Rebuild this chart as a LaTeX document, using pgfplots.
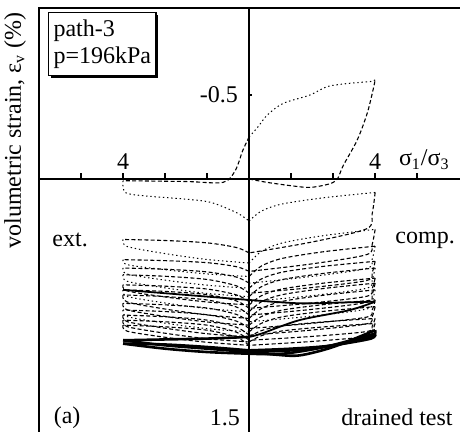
\documentclass[border=0pt]{standalone}
\usepackage{pgfplots}
\pgfplotsset{compat=1.18}
\usepackage{fontspec}
\setmainfont{Liberation Serif}
\usetikzlibrary{shadows}
\begin{document}
\begin{tikzpicture}[x=1pt,y=1pt,font=\fontsize{12}{14}\selectfont]
\path[use as bounding box] (0,0) rectangle (230,216);
\begin{axis}[at={(19.5pt,0pt)}, anchor=south west, scale only axis,
  width=210.5pt, height=212pt, xmin=-5, xmax=5.02, ymin=-1.018, ymax=1.506,
  y dir=reverse, hide axis, clip=false,
  ld/.style={black, line width=0.55pt, dash pattern=on 2pt off 1.2pt, smooth, tension=0.5},
  ul/.style={black, line width=0.5pt, dash pattern=on 0.7pt off 1.4pt, smooth, tension=0.5},
  tk/.style={black, line width=1.3pt, smooth, tension=0.5}]
% frame and centre lines
\draw[line width=1pt] (axis cs:-5,1.506) -- (axis cs:-5,-1.018) -- (axis cs:5.02,-1.018);
\draw[line width=1pt] (axis cs:0,1.506) -- (axis cs:0,-1.018);
\draw[line width=1pt] (axis cs:-5,0) -- (axis cs:5.02,0);
\draw[line width=0.8pt] (axis cs:-4,0) -- (axis cs:-4,-0.035);
\draw[line width=0.8pt] (axis cs:-3,0) -- (axis cs:-3,-0.035);
\draw[line width=0.8pt] (axis cs:-2,0) -- (axis cs:-2,-0.035);
\draw[line width=0.8pt] (axis cs:-1,0) -- (axis cs:-1,-0.035);
\draw[line width=0.8pt] (axis cs:1,0) -- (axis cs:1,-0.035);
\draw[line width=0.8pt] (axis cs:2,0) -- (axis cs:2,-0.035);
\draw[line width=0.8pt] (axis cs:3,0) -- (axis cs:3,-0.035);
\draw[line width=0.8pt] (axis cs:4,0) -- (axis cs:4,-0.035);
\draw[line width=0.8pt] (axis cs:0,-0.5) -- (axis cs:0.08,-0.5);
% cycle 0
\addplot[ld] coordinates {(0,0) (0.43,0.02) (1,0.04) (1.45,0.05) (1.9,0.03) (2.1,0.0) (2.24,-0.08) (2.57,-0.23) (2.81,-0.39) (2.95,-0.53) (3,-0.59)};
\addplot[ul] coordinates {(3,-0.59) (2.88,-0.58) (2.4,-0.57) (1.86,-0.55) (1.45,-0.5) (0.81,-0.45) (0.43,-0.38) (0.21,-0.31) (0,-0.25)};
\addplot[ld] coordinates {(0,-0.25) (-0.15,-0.17) (-0.33,-0.05) (-0.62,0.02) (-1.5,0.015) (-3,0.01)};
\addplot[ul] coordinates {(-3,0.01) (-2.95,0.08) (-2.5,0.1) (-1.5,0.12) (-0.9,0.14) (-0.3,0.2) (0,0.25)};
% cycle 1
\addplot[ul] coordinates {(0,0.25) (0.3,0.19) (0.8,0.148) (1.8,0.111) (3,0.08)};
\addplot[ld] coordinates {(3,0.08) (2.93,0.206) (2.8,0.296) (1.5,0.375) (0,0.44)};
\addplot[ld] coordinates {(0,0.44) (-0.3,0.408) (-1,0.38) (-2,0.366) (-3,0.36)};
\addplot[ul] coordinates {(-3,0.36) (-2.9,0.402) (-2,0.444) (-1,0.479) (0,0.50)};
% cycle 2
\addplot[ul] coordinates {(0,0.50) (0.3,0.43) (0.8,0.38) (1.8,0.336) (3,0.30)};
\addplot[ld] coordinates {(3,0.30) (2.93,0.388) (2.8,0.45) (1.5,0.505) (0,0.55)};
\addplot[ld] coordinates {(0,0.55) (-0.3,0.522) (-1,0.498) (-2,0.486) (-3,0.48)};
\addplot[ul] coordinates {(-3,0.48) (-2.9,0.51) (-2,0.54) (-1,0.565) (0,0.58)};
% cycle 3
\addplot[ld] coordinates {(0,0.58) (0.3,0.517) (0.8,0.472) (1.8,0.432) (3,0.40)};
\addplot[ul] coordinates {(3,0.40) (2.93,0.477) (2.8,0.532) (1.5,0.58) (0,0.62)};
\addplot[ld] coordinates {(0,0.62) (-0.3,0.584) (-1,0.553) (-2,0.537) (-3,0.53)};
\addplot[ul] coordinates {(-3,0.53) (-2.9,0.566) (-2,0.602) (-1,0.632) (0,0.65)};
% cycle 4
\addplot[ld] coordinates {(0,0.65) (0.3,0.594) (0.8,0.554) (1.8,0.519) (3,0.49)};
\addplot[ld] coordinates {(3,0.49) (2.93,0.557) (2.8,0.604) (1.5,0.646) (0,0.68)};
\addplot[ld] coordinates {(0,0.68) (-0.3,0.636) (-1,0.598) (-2,0.579) (-3,0.57)};
\addplot[ul] coordinates {(-3,0.57) (-2.9,0.609) (-2,0.648) (-1,0.681) (0,0.70)};
% cycle 5
\addplot[ld] coordinates {(0,0.70) (0.3,0.64) (0.8,0.598) (1.8,0.561) (3,0.53)};
\addplot[ul] coordinates {(3,0.53) (2.93,0.60) (2.8,0.65) (1.5,0.694) (0,0.73)};
\addplot[ld] coordinates {(0,0.73) (-0.3,0.69) (-1,0.655) (-2,0.638) (-3,0.63)};
\addplot[ld] coordinates {(-3,0.63) (-2.9,0.666) (-2,0.702) (-1,0.732) (0,0.75)};
% cycle 6
\addplot[ld] coordinates {(0,0.75) (0.3,0.694) (0.8,0.654) (1.8,0.619) (3,0.59)};
\addplot[ld] coordinates {(3,0.59) (2.93,0.653) (2.8,0.698) (1.5,0.738) (0,0.77)};
\addplot[ld] coordinates {(0,0.77) (-0.3,0.726) (-1,0.688) (-2,0.669) (-3,0.66)};
\addplot[ul] coordinates {(-3,0.66) (-2.9,0.699) (-2,0.738) (-1,0.771) (0,0.79)};
% cycle 7
\addplot[ld] coordinates {(0,0.79) (0.3,0.73) (0.8,0.688) (1.8,0.651) (3,0.62)};
\addplot[ld] coordinates {(3,0.62) (2.93,0.687) (2.8,0.734) (1.5,0.776) (0,0.81)};
\addplot[ld] coordinates {(0,0.81) (-0.3,0.762) (-1,0.72) (-2,0.70) (-3,0.69)};
\addplot[ld] coordinates {(-3,0.69) (-2.9,0.732) (-2,0.774) (-1,0.809) (0,0.83)};
% cycle 8
\addplot[ld] coordinates {(0,0.83) (0.3,0.77) (0.8,0.728) (1.8,0.691) (3,0.66)};
\addplot[ul] coordinates {(3,0.66) (2.93,0.727) (2.8,0.774) (1.5,0.816) (0,0.85)};
\addplot[ld] coordinates {(0,0.85) (-0.3,0.806) (-1,0.768) (-2,0.749) (-3,0.74)};
\addplot[ld] coordinates {(-3,0.74) (-2.9,0.779) (-2,0.818) (-1,0.851) (0,0.87)};
% cycle 9
\addplot[ld] coordinates {(0,0.87) (0.3,0.818) (0.8,0.78) (1.8,0.747) (3,0.72)};
\addplot[ld] coordinates {(3,0.72) (2.93,0.78) (2.8,0.822) (1.5,0.859) (0,0.89)};
\addplot[ld] coordinates {(0,0.89) (-0.3,0.846) (-1,0.808) (-2,0.789) (-3,0.78)};
\addplot[ul] coordinates {(-3,0.78) (-2.9,0.819) (-2,0.858) (-1,0.891) (0,0.91)};
% cycle 10
\addplot[ld] coordinates {(0,0.91) (0.3,0.858) (0.8,0.82) (1.8,0.787) (3,0.76)};
\addplot[ld] coordinates {(3,0.76) (2.93,0.82) (2.8,0.862) (1.5,0.899) (0,0.93)};
\addplot[ld] coordinates {(0,0.93) (-0.3,0.882) (-1,0.84) (-2,0.82) (-3,0.81)};
\addplot[ld] coordinates {(-3,0.81) (-2.9,0.849) (-2,0.888) (-1,0.921) (0,0.94)};
% cycle 11
\addplot[ld] coordinates {(0,0.94) (0.3,0.902) (0.8,0.874) (1.8,0.85) (3,0.83)};
\addplot[ld] coordinates {(3,0.83) (2.93,0.876) (2.8,0.908) (1.5,0.937) (0,0.96)};
\addplot[ld] coordinates {(0,0.96) (-0.3,0.912) (-1,0.87) (-2,0.85) (-3,0.84)};
\addplot[ld] coordinates {(-3,0.84) (-2.9,0.879) (-2,0.918) (-1,0.951) (0,0.97)};
% cycle 12
\addplot[ld] coordinates {(0,0.97) (0.3,0.932) (0.8,0.904) (1.8,0.88) (3,0.86)};
\addplot[ld] coordinates {(3,0.86) (2.93,0.906) (2.8,0.938) (1.5,0.967) (0,0.99)};
\addplot[ld] coordinates {(0,0.99) (-0.3,0.942) (-1,0.90) (-2,0.88) (-3,0.87)};
\addplot[ld] coordinates {(-3,0.87) (-2.9,0.906) (-2,0.942) (-1,0.972) (0,0.99)};
% solid curves
\addplot[tk, line width=0.9pt] coordinates {(-3,0.66) (-2,0.68) (-1,0.70) (0,0.72)};
\addplot[tk, line width=0.9pt] coordinates {(0,0.72) (1.2,0.74) (2.2,0.735) (3,0.73)};
\addplot[tk, line width=0.9pt] coordinates {(3,0.73) (2.4,0.78) (1.2,0.84) (0.3,0.92) (0,0.94)};
\addplot[tk] coordinates {(0,0.94) (-1,0.95) (-2,0.955) (-3,0.96)};
\addplot[tk] coordinates {(-3,0.96) (-2,0.99) (-1,1.01) (0,1.03)};
\addplot[tk] coordinates {(0,1.03) (0.6,1.045) (1.2,1.05) (2,1.0) (3,0.90)};
\addplot[tk] coordinates {(3,0.90) (2.9,0.94) (2,0.99) (1,1.01) (0,1.02)};
\addplot[tk] coordinates {(0,1.02) (-1,1.0) (-2,0.985) (-3,0.98)};
\addplot[tk] coordinates {(-3,0.98) (-2,1.01) (-1,1.03) (0,1.04)};
\addplot[tk] coordinates {(0,1.04) (0.8,1.04) (1.8,1.0) (3,0.92)};
\addplot[tk] coordinates {(3,0.92) (2.9,0.95) (2,0.99) (1,1.02) (0,1.03)};
% texts
\node[draw, fill=white, line width=0.7pt, align=left, inner xsep=2.5pt, inner ysep=3.5pt, anchor=north west,
  font=\fontsize{12}{13.5}\selectfont,
  drop shadow={shadow xshift=1.2pt, shadow yshift=-1.2pt, opacity=1, fill=black}]
  at (axis cs:-4.79,-0.994) {path-3\\p=196kPa};
\node[anchor=east] at (axis cs:-0.1,-0.5) {-0.5};
\node[anchor=south] at (axis cs:-3,-0.015) {4};
\node[anchor=south] at (axis cs:3,-0.015) {4};
\node[anchor=south west] at (axis cs:3.4,-0.015) {σ\textsubscript{1}/σ\textsubscript{3}};
\node at (axis cs:-4.26,0.363) {ext.};
\node at (axis cs:4.19,0.363) {comp.};
\node at (axis cs:-4.33,1.42) {(a)};
\node[anchor=east] at (axis cs:-0.05,1.42) {1.5};
\node at (axis cs:3.52,1.42) {drained test};
\node[rotate=90] at (axis cs:-5.57,-0.29) {volumetric strain, ε\textsubscript{v} (\%)};
\end{axis}
\end{tikzpicture}
\end{document}
